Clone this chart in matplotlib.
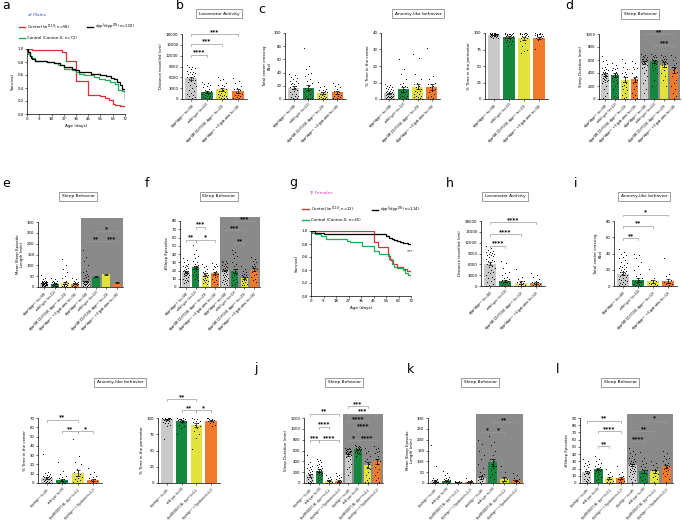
import numpy as np
import matplotlib
matplotlib.use("Agg")
import matplotlib.pyplot as plt
from matplotlib.lines import Line2D
from matplotlib.patches import Rectangle
import matplotlib.transforms as mtransforms

W, H = 682, 527
plt.rcParams['font.family'] = ['DejaVu Sans']

# ---------------- colours ----------------
C_GREY = '#c9c9c9'
C_GREEN = '#14883f'
C_YELLOW = '#e2e23c'
C_ORANGE = '#f07a2c'
C_SHADE = '#8a8a8a'
BAR_COLORS = [C_GREY, C_GREEN, C_YELLOW, C_ORANGE]
RED = '#dc2f3c'
GREEN_L = '#1fae55'

# ---------------- labels ----------------
DPP = r"dpp$^{f}$/dpp$^{DN}$"
GRD = r"dpp$^{f}$GR(DD)Y158, dpp$^{DN}$"
labels_m = [f"{DPP} (n=58)", "wild type (n=22)", f"{GRD} (n=23)", f"{DPP} + Vigabatrin (n=16)"]
labels_f = [f"{DPP} (n=40)", "wild type (n=30)", f"{GRD} (n=12)", f"{DPP} + Vigabatrin (n=12)"]

# ---------------- survival data ----------------
age_ticks = [0, 9, 18, 27, 36, 45, 54, 63, 72]
a_red_t = [0, 4, 26, 29, 36, 42, 45, 54, 57, 60, 63, 65, 68, 72]
a_red_s = [1.0, 0.98, 0.96, 0.82, 0.51, 0.51, 0.30, 0.28, 0.25, 0.21, 0.16, 0.14, 0.12, 0.11]
a_blk_t = [0, 1, 2, 3, 4, 6, 15, 20, 24, 27, 33, 35, 38, 43, 47, 54, 58, 62, 64, 66, 68, 70, 72]
a_blk_s = [1.0, 0.95, 0.90, 0.86, 0.84, 0.82, 0.80, 0.79, 0.76, 0.72, 0.70, 0.67, 0.65, 0.64, 0.62, 0.60,
           0.59, 0.56, 0.54, 0.50, 0.44, 0.38, 0.22]
a_grn_t = [0, 1, 2, 4, 6, 15, 20, 23, 27, 33, 36, 38, 42, 45, 49, 53, 57, 61, 65, 67, 70, 72]
a_grn_s = [1.0, 0.93, 0.90, 0.86, 0.82, 0.80, 0.79, 0.76, 0.70, 0.68, 0.65, 0.62, 0.60, 0.60, 0.57, 0.54,
           0.52, 0.49, 0.46, 0.37, 0.36, 0.25]

g_red_t = [0, 45, 48.5, 55.5, 57, 59, 62, 66, 69, 72]
g_red_s = [1.0, 0.83, 0.75, 0.62, 0.55, 0.50, 0.45, 0.42, 0.38, 0.33]
g_blk_t = [0, 3, 9, 54, 56, 58, 60, 62, 64, 66, 68, 70, 72]
g_blk_s = [1.0, 0.97, 0.96, 0.93, 0.90, 0.88, 0.86, 0.85, 0.83, 0.82, 0.81, 0.80, 0.78]
g_grn_t = [0, 1, 3, 7, 11, 26, 28, 37, 45, 49, 56, 58, 60, 62, 66, 68, 70, 72]
g_grn_s = [1.0, 0.97, 0.95, 0.93, 0.87, 0.85, 0.83, 0.77, 0.70, 0.64, 0.57, 0.50, 0.45, 0.43, 0.40, 0.36,
           0.33, 0.30]

# ---------------- bar data ----------------
b_mean = [5800, 2000, 2700, 2200]
b_err = [400, 300, 450, 500]
b_pts = [
    [9500, 9000, 8800, 8500, 8200, 7800, 7600, 7400, 7200, 7000, 6800, 6500, 6200, 6000, 5800, 5500, 5200,
     5000, 4800, 4500, 4000, 3500, 3000, 2600, 2200, 1800, 1500, 1200, 900, 600, 300, 100],
    [4800, 4500, 4200, 3800, 3500, 3200, 2800, 2500, 2300, 2100, 1900, 1800, 1700, 1500, 1300, 1100, 900,
     700, 500, 300, 200, 100],
    [6000, 5500, 5200, 4500, 4000, 3800, 3500, 3000, 2800, 2500, 2200, 2000, 1800, 1500, 1200, 1000, 800,
     700, 600, 400, 300, 200, 100],
    [5800, 5000, 4500, 3500, 3000, 2800, 2500, 2000, 1500, 1200, 1000, 800, 500, 300, 200, 100],
]
c1_mean = [17, 17, 9, 10]
c1_err = [2, 4, 2, 2.5]
c1_pts = [
    [38, 36, 34, 32, 30, 28, 27, 25, 24, 22, 22, 20, 20, 18, 16, 15, 14, 12, 10, 8, 7, 5, 4, 3, 2, 1, 0, 0],
    [78, 50, 45, 40, 38, 35, 30, 28, 25, 20, 16, 15, 12, 10, 8, 5, 3, 2, 1, 0, 0, 0],
    [26, 20, 18, 15, 14, 13, 12, 11, 10, 9, 8, 7, 6, 5, 4, 3, 3, 2, 2, 1, 0, 0, 0],
    [24, 22, 20, 18, 15, 12, 10, 8, 6, 5, 4, 3, 2, 1, 0, 0],
]
c2_mean = [3.5, 5.8, 7.5, 7.3]
c2_err = [0.4, 1.3, 1.6, 2.0]
c2_pts = [
    [9, 8.5, 8, 7.5, 7, 6.5, 6, 6, 5.5, 5, 5, 4.5, 4, 4, 3.5, 3, 3, 3, 2.5, 2, 2, 2, 1.5, 1, 1, 1, 0.5, 0.5, 0, 0],
    [24, 18, 15, 12, 10, 9, 8, 8, 7, 6, 5, 5, 4, 3, 3, 2, 2, 1, 1, 0.5, 0, 0],
    [27, 25, 15, 12, 10, 9, 8, 7, 6, 6, 5, 5, 4, 3, 3, 2, 2, 1, 1, 0.5, 0, 0, 0],
    [31, 14, 12, 10, 9, 9, 8, 7, 6, 5, 4, 3, 2, 1, 0.5, 0],
]
c3_mean = [97, 94, 92, 93]
c3_err = [0.5, 1.2, 2.0, 1.5]
c3_pts = [
    [100, 100, 100, 99, 99, 99, 99, 98, 98, 98, 97, 97, 97, 96, 96, 96, 95, 95, 94, 94, 93, 92, 100, 99, 98, 100],
    [100, 99, 99, 99, 98, 98, 97, 97, 96, 95, 95, 94, 93, 92, 91, 90, 88, 87, 86, 84, 80, 100],
    [100, 100, 99, 99, 98, 98, 97, 96, 95, 95, 93, 92, 90, 88, 85, 80, 75, 72, 70, 100],
    [100, 99, 99, 98, 98, 97, 96, 96, 95, 94, 93, 92, 90, 76, 100, 97],
]
d_mean = [380, 370, 300, 305, 560, 580, 530, 450]
d_err = [20, 25, 35, 40, 20, 25, 35, 45]
d_pts = [
    [660, 600, 580, 540, 500, 480, 460, 450, 440, 420, 410, 400, 390, 380, 370, 360, 350, 340, 330, 320, 310,
     300, 290, 280, 270, 260, 240, 200, 150, 100, 50, 20],
    [560, 520, 480, 470, 460, 440, 420, 400, 390, 380, 360, 350, 340, 320, 300, 280, 250, 200, 150, 100, 50, 30],
    [620, 560, 500, 460, 420, 400, 380, 350, 340, 300, 260, 250, 220, 200, 180, 150, 140, 100, 60, 30, 10],
    [580, 560, 500, 480, 460, 400, 350, 330, 300, 280, 250, 200, 150, 100, 60, 30, 10],
    [700, 680, 660, 650, 640, 620, 620, 610, 600, 590, 590, 580, 570, 560, 550, 540, 520, 500, 480, 450, 400,
     350, 300, 250, 150, 100],
    [700, 680, 660, 650, 640, 620, 600, 600, 580, 580, 560, 540, 520, 500, 480, 450, 400, 300, 200],
    [680, 660, 640, 620, 620, 600, 580, 580, 560, 540, 520, 500, 450, 400, 350, 300, 200],
    [680, 650, 600, 550, 520, 500, 480, 450, 420, 400, 350, 300, 250, 200, 150, 100, 50, 10],
]
e_mean = [18, 15, 18, 15, 25, 48, 58, 20]
e_err = [1.5, 2, 6, 2.5, 4, 3, 4, 2]
e_pts = [
    [55, 40, 35, 30, 28, 26, 25, 25, 24, 22, 22, 20, 20, 18, 17, 16, 15, 14, 13, 12, 11, 10, 9, 8, 7, 6, 5, 4],
    [40, 35, 30, 28, 25, 22, 20, 18, 16, 15, 14, 12, 10, 8, 6, 5, 4, 3, 2, 1],
    [130, 100, 85, 70, 50, 40, 30, 25, 20, 15, 12, 10, 8, 6, 4, 3, 2, 1],
    [40, 35, 30, 25, 22, 20, 18, 16, 14, 12, 10, 8, 6, 4, 2, 1],
    [170, 140, 120, 100, 75, 70, 60, 55, 50, 45, 40, 35, 30, 28, 26, 25, 24, 22, 20, 18, 16, 15, 14, 12, 10,
     8, 6, 5],
    [], [], [],
]
f_mean = [18, 24, 15, 17, 20, 19, 11, 21]
f_err = [1, 2, 1.5, 1.5, 1, 2.5, 1.5, 2]
f_pts = [
    [35, 33, 30, 28, 27, 26, 25, 24, 23, 22, 21, 20, 20, 19, 18, 18, 17, 17, 16, 16, 15, 15, 14, 13, 12, 11,
     10, 9, 8, 7, 6, 5],
    [51, 45, 40, 38, 35, 32, 30, 28, 27, 26, 25, 24, 23, 22, 20, 18, 16, 15, 14, 12, 10, 8],
    [28, 25, 24, 22, 20, 18, 17, 16, 15, 14, 13, 12, 11, 10, 9, 8, 7, 6, 5, 4],
    [29, 28, 26, 25, 24, 22, 20, 18, 16, 15, 14, 13, 12, 10, 8, 6, 4],
    [32, 31, 30, 29, 28, 27, 26, 25, 24, 23, 22, 21, 20, 19, 18, 17, 16, 15, 14, 13, 12, 11, 10, 9, 8, 7, 6,
     5, 4, 3],
    [45, 43, 40, 38, 35, 30, 28, 25, 22, 20, 18, 16, 14, 12, 10, 8, 6, 4, 2],
    [26, 22, 20, 18, 16, 15, 14, 13, 12, 11, 10, 9, 8, 7, 6, 5, 4, 3, 2],
    [36, 34, 32, 30, 28, 26, 25, 24, 22, 20, 18, 16, 14, 12, 10, 8, 6],
]
h_mean = [6200, 1500, 900, 900]
h_err = [450, 300, 400, 300]
h_pts = [
    [11000, 10500, 10000, 9800, 9500, 9300, 9200, 9000, 8800, 8700, 8500, 8200, 8000, 7500, 7200, 7000, 6800,
     6500, 6000, 5500, 5200, 5000, 4500, 4000, 3800, 3500, 3000, 2500, 2200, 2000, 1500, 1000, 500, 200, 100],
    [7000, 6500, 5000, 4000, 3500, 3000, 2500, 2200, 2000, 1800, 1600, 1500, 1400, 1200, 1000, 900, 800, 600,
     400, 200, 100, 50],
    [4800, 2500, 2000, 1500, 1200, 1000, 800, 600, 400, 200, 100, 50],
    [3500, 3000, 2500, 2000, 1500, 1200, 1000, 800, 600, 400, 200, 100, 50],
]
i_mean = [15, 7.5, 6, 6]
i_err = [1.8, 2.2, 2, 2.8]
i_pts = [
    [45, 42, 40, 38, 36, 34, 32, 30, 28, 26, 25, 24, 23, 22, 21, 20, 19, 18, 17, 16, 15, 14, 13, 12, 11, 10,
     9, 8, 7, 6, 5, 4, 3, 2, 1, 0, 0],
    [40, 38, 35, 30, 25, 20, 15, 12, 10, 8, 6, 5, 4, 3, 2, 1, 0, 0, 0, 0],
    [21, 10, 8, 6, 5, 4, 3, 2, 1, 0, 0, 0],
    [34, 15, 12, 8, 6, 5, 4, 3, 2, 1, 0, 0],
]
r3a_mean = [5, 3.5, 11, 3.5]
r3a_err = [1, 1.2, 3.5, 1.3]
r3a_pts = [
    [31, 12, 11, 10, 9, 8, 8, 7, 7, 6, 6, 5, 5, 4, 4, 3, 3, 2, 2, 1, 1, 0, 0, 0, 0],
    [23, 13, 10, 8, 6, 5, 4, 3, 2, 1, 0, 0, 0, 0, 0],
    [47, 29, 23, 20, 15, 12, 10, 8, 6, 5, 4, 3, 2, 1, 0],
    [16, 12, 10, 8, 6, 5, 4, 3, 2, 1, 0, 0],
]
r3b_mean = [98, 96, 89, 96]
r3b_err = [0.8, 1.5, 3.5, 1.2]
r3b_pts = [
    [100, 100, 100, 100, 99, 99, 99, 98, 98, 97, 97, 96, 95, 94, 93, 92, 90, 88, 68, 100, 99, 98],
    [100, 100, 99, 99, 98, 97, 96, 95, 94, 92, 90, 87, 84, 76, 100, 99],
    [100, 99, 98, 96, 95, 94, 92, 90, 88, 85, 80, 75, 70, 52],
    [100, 99, 98, 97, 96, 95, 94, 93, 90, 88, 100],
]
j_mean = [140, 230, 40, 40, 520, 620, 330, 400]
j_err = [25, 20, 12, 15, 20, 15, 60, 50]
j_pts = [
    [520, 380, 350, 320, 300, 280, 260, 240, 220, 200, 180, 160, 140, 120, 100, 80, 60, 40, 20, 10, 5, 0, 0, 0],
    [450, 420, 400, 380, 360, 340, 320, 300, 280, 260, 250, 240, 230, 220, 210, 200, 190, 180, 170, 160, 150,
     140, 120, 100, 80, 60],
    [150, 120, 100, 80, 60, 50, 40, 30, 20, 10, 5, 0],
    [180, 150, 130, 110, 90, 70, 50, 40, 30, 20, 10, 0],
    [650, 640, 630, 620, 620, 610, 600, 600, 590, 580, 580, 570, 560, 550, 540, 530, 520, 500, 480, 450, 400,
     350, 300, 250, 200, 150],
    [700, 690, 680, 670, 660, 650, 640, 630, 620, 610, 600, 590, 580, 570, 560, 550, 540, 530, 500],
    [650, 600, 550, 500, 450, 400, 350, 300, 250, 200, 150, 100, 50, 20, 10],
    [680, 650, 620, 600, 580, 550, 500, 450, 400, 350, 300, 250, 200, 150, 100, 50, 20],
]
k_mean = [8, 10, 5, 5, 25, 95, 18, 12]
k_err = [5, 3, 1, 2, 6, 15, 8, 4]
k_pts = [
    [175, 80, 25, 20, 15, 12, 10, 8, 6, 5, 4, 3, 2, 1, 0],
    [55, 45, 35, 30, 25, 20, 18, 15, 12, 10, 8, 6, 4, 2, 1],
    [10, 8, 6, 5, 4, 3, 2, 1],
    [25, 15, 10, 8, 6, 4, 3, 2, 1],
    [200, 180, 150, 130, 110, 90, 70, 50, 40, 35, 30, 25, 20, 15, 10, 5],
    [215, 190, 175, 150, 130, 110, 100, 90, 80, 70, 60, 50, 40, 30, 20],
    [80, 50, 30, 20, 15, 10, 8, 5],
    [45, 35, 25, 20, 15, 12, 10, 8, 5, 3, 2],
]
l_mean = [15, 19, 7, 7, 25, 16, 16, 23]
l_err = [1.5, 1.5, 1.5, 1.8, 1.2, 2.5, 2.5, 2.5]
l_pts = [
    [33, 30, 28, 26, 25, 24, 22, 20, 18, 17, 16, 15, 14, 13, 12, 10, 8, 6, 5, 4, 3, 2, 1, 0],
    [37, 33, 30, 28, 26, 24, 22, 20, 19, 18, 17, 16, 15, 14, 12, 10, 8, 6, 4],
    [20, 15, 12, 10, 8, 6, 5, 4, 3, 2, 1, 0],
    [24, 15, 12, 10, 8, 6, 5, 4, 3, 2, 1, 0],
    [48, 45, 42, 40, 38, 35, 33, 31, 30, 29, 28, 27, 26, 25, 24, 23, 22, 21, 20, 19, 18, 17, 16, 15, 14, 12,
     10, 8, 6, 4, 2],
    [43, 35, 30, 28, 26, 24, 22, 20, 18, 16, 14, 12, 10, 8, 6, 4, 2, 0],
    [30, 28, 25, 22, 20, 18, 16, 14, 12, 10, 8, 5, 2],
    [45, 42, 38, 35, 33, 30, 28, 26, 24, 22, 20, 18, 16, 14, 12, 10, 6, 2],
]

# ---------------- helpers ----------------
fig = plt.figure(figsize=(W / 100, H / 100), dpi=100)


def rect(l, t, r, b):
    return [l / W, 1 - b / H, (r - l) / W, (b - t) / H]


def style_axes(ax):
    for s in ['top', 'right']:
        ax.spines[s].set_visible(False)
    for s in ['left', 'bottom']:
        ax.spines[s].set_linewidth(0.5)
    ax.tick_params(length=1.5, width=0.4, pad=1, labelsize=2.8)


def fig_text(x, y, s, **kw):
    fig.text(x / W, 1 - y / H, s, **kw)


def title_box(cx, cy, s):
    fig_text(cx, cy, s, ha='center', va='center', fontsize=3.2,
             bbox=dict(boxstyle='square,pad=0.6', fc='white', ec='#777777', lw=0.5))


def letter(x, y, s):
    fig_text(x, y, s, ha='left', va='baseline', fontsize=9)


def bar_panel(box, means, errs, pts, ylim, yticks, ylabel, xlabels, shade=False, brackets=(), xfs=2.3):
    ax = fig.add_axes(rect(*box))
    style_axes(ax)
    n = len(means)
    x = np.arange(n)
    cols = [BAR_COLORS[k % 4] for k in range(n)]
    ax.set_xlim(-0.6, n - 0.4)
    ax.set_ylim(0, ylim)
    if shade:
        trans = mtransforms.blended_transform_factory(ax.transData, ax.transAxes)
        ax.add_patch(Rectangle((n / 2 - 0.5, 0), n / 2 + 0.1, 1.06, transform=trans,
                               color=C_SHADE, zorder=0, clip_on=False, lw=0))
    ax.bar(x, means, width=0.78, color=cols, zorder=2)
    for k in range(n):
        p = pts[k]
        if len(p):
            offs = (((np.arange(len(p)) * 0.618) % 1.0) - 0.5) * 0.6
            ax.scatter(k + offs, p, s=0.5, color='black', lw=0, zorder=3, clip_on=False)
    ax.errorbar(x, means, yerr=errs, fmt='none', ecolor='black', elinewidth=0.5, capsize=1.2,
                capthick=0.5, zorder=4)
    ax.set_yticks(yticks)
    ax.set_yticklabels([f"{v:g}" for v in yticks])
    ax.set_xticks(x)
    ax.set_xticklabels(xlabels, rotation=45, ha='right', rotation_mode='anchor', fontsize=xfs)
    ax.set_ylabel(ylabel, fontsize=2.8, labelpad=2)
    for (i, j, y, t) in brackets:
        h = 0.03 * ylim
        ax.plot([i, i, j, j], [y - h, y, y, y - h], color='#9a9a9a', lw=0.5, clip_on=False, zorder=5)
        ax.text((i + j) / 2, y + 0.005 * ylim, t, ha='center', va='bottom', fontsize=4.2,
                fontweight='bold', clip_on=False, zorder=6)
    return ax


def survival_panel(box, curves):
    ax = fig.add_axes(rect(*box))
    style_axes(ax)
    for t, s, c in curves:
        ax.step(t, s, where='post', color=c, lw=0.9)
    ax.set_xlim(0, 72)
    ax.set_ylim(0, 1.0)
    ax.set_xticks(age_ticks)
    ax.set_yticks([0, 0.2, 0.4, 0.6, 0.8, 1.0])
    ax.set_yticklabels(["0.0", "0.2", "0.4", "0.6", "0.8", "1.0"])
    ax.set_xlabel("Age (days)", fontsize=3, labelpad=1.5)
    ax.set_ylabel("Survival", fontsize=3, labelpad=2)
    return ax


def legend_line(x0, x1, y, c, txt):
    fig.add_artist(Line2D([x0 / W, x1 / W], [1 - y / H, 1 - y / H], color=c, lw=1.0))
    fig_text(x1 + 2, y, txt, ha='left', va='center', fontsize=2.8)


# ---------------- panel a ----------------
letter(2, 9, 'a')
fig_text(28, 15, '\u2642 Males', ha='left', va='center', fontsize=3.2, color='#3a5bd9')
legend_line(19, 25, 27, RED, r"Control (w$^{1118}$; n=58)")
legend_line(87, 93, 27, 'black', f"{DPP} (n=102)")
legend_line(19, 25, 38, GREEN_L, "Control (Canton-S; n=72)")
survival_panel((27, 49, 125, 114), [(a_red_t, a_red_s, RED), (a_grn_t, a_grn_s, GREEN_L),
                                    (a_blk_t, a_blk_s, 'black')])

# ---------------- panel b ----------------
letter(176, 9, 'b')
title_box(219, 13.5, 'Locomotor Activity')
bar_panel((182, 34, 247, 99), b_mean, b_err, b_pts, 18000, list(range(0, 18001, 3000)),
          'Distance travelled (cm)', labels_m,
          brackets=[(0, 1, 12300, '****'), (0, 2, 15300, '***'), (0, 3, 18000, '***')])

# ---------------- panel c ----------------
letter(258, 13, 'c')
title_box(418, 13.5, 'Anxiety-like behavior')
bar_panel((285, 33, 346, 99), c1_mean, c1_err, c1_pts, 100, [0, 20, 40, 60, 80, 100],
          'Total center crossing\n(No)', labels_m)
bar_panel((381, 33, 440, 99), c2_mean, c2_err, c2_pts, 40, [0, 10, 20, 30, 40],
          '% Time in the center', labels_m)
bar_panel((485, 33, 548, 99), c3_mean, c3_err, c3_pts, 100, [0, 25, 50, 75, 100],
          '% Time in the perimeter', labels_m)

# ---------------- panel d ----------------
letter(565, 9, 'd')
title_box(640, 14, 'Sleep Behavior')
bar_panel((599, 34, 680, 99), d_mean, d_err, d_pts, 1000, [0, 200, 400, 600, 800, 1000],
          'Sleep Duration (min)', labels_m + labels_m, shade=True,
          brackets=[(4, 7, 1000, '**'), (5, 7, 830, '***')])

# ---------------- panel e ----------------
letter(2, 187, 'e')
title_box(78, 196.5, 'Sleep Behavior')
bar_panel((38, 222, 123, 287), e_mean, e_err, e_pts, 300, [0, 50, 100, 150, 200, 250, 300],
          'Mean Sleep Episode\nLength (min)', labels_m + labels_m, shade=True,
          brackets=[(5, 7, 258, '*'), (4, 6, 212, '**'), (6, 7, 212, '***')])

# ---------------- panel f ----------------
letter(145, 187, 'f')
title_box(219, 196.5, 'Sleep Behavior')
bar_panel((180, 221, 260, 287), f_mean, f_err, f_pts, 80, list(range(0, 81, 10)),
          '#Sleep Episodes', labels_m + labels_m, shade=True,
          brackets=[(0, 1, 57, '**'), (1, 2, 73, '***'), (1, 3, 57, '*'), (4, 6, 69, '***'),
                    (5, 6, 53, '**'), (5, 7, 80, '***')])

# ---------------- panel g ----------------
letter(289, 186, 'g')
fig_text(310, 193, '\u2640 Females', ha='left', va='center', fontsize=3.2, color='#e040b8')
legend_line(302, 309, 209, RED, r"Control (w$^{1118}$; n=12)")
legend_line(372, 378, 210, 'black', f"{DPP} (n=114)")
legend_line(302, 309, 220, GREEN_L, "Control (Canton-S; n=45)")
axg = survival_panel((311, 231, 411, 296), [(g_red_t, g_red_s, RED), (g_grn_t, g_grn_s, GREEN_L),
                                            (g_blk_t, g_blk_s, 'black')])
axg.text(71, 0.72, '***', fontsize=3, ha='center', va='top')

# ---------------- panel h ----------------
letter(446, 187, 'h')
title_box(505, 196.5, 'Locomotor Activity')
bar_panel((481, 221, 545, 286), h_mean, h_err, h_pts, 18000, list(range(0, 18001, 3000)),
          'Distance travelled (cm)', labels_f,
          brackets=[(0, 1, 11100, '****'), (0, 2, 14400, '****'), (0, 3, 17700, '****')])

# ---------------- panel i ----------------
letter(574, 187, 'i')
title_box(644, 196.5, 'Anxiety-like behavior')
bar_panel((614, 221, 677, 286), i_mean, i_err, i_pts, 80, [0, 20, 40, 60, 80],
          'Total center crossing\n(No)', labels_f,
          brackets=[(0, 1, 59, '**'), (0, 2, 74, '**'), (0, 3, 88, '*')])

# ---------------- row 3 anxiety ----------------
title_box(120, 382.5, 'Anxiety-like behavior')
bar_panel((38, 418, 102, 483), r3a_mean, r3a_err, r3a_pts, 70, list(range(0, 71, 10)),
          '% Time in the center', labels_f, xfs=1.9,
          brackets=[(0, 2, 68, '**'), (1, 2, 56, '**'), (2, 3, 56, '*')])
bar_panel((158, 418, 220, 483), r3b_mean, r3b_err, r3b_pts, 100, [0, 25, 50, 75, 100],
          '% Time in the perimeter', labels_f, xfs=1.9,
          brackets=[(0, 2, 129, '**'), (1, 2, 112, '**'), (2, 3, 112, '*')])

# ---------------- panel j ----------------
letter(254, 372, 'j')
title_box(344, 382.5, 'Sleep Behavior')
bar_panel((304, 418, 383, 483), j_mean, j_err, j_pts, 1200, list(range(0, 1201, 200)),
          'Sleep Duration (min)', labels_f + labels_f, shade=True, xfs=1.9,
          brackets=[(0, 1, 792, '***'), (1, 2, 1035, '****'), (1, 3, 792, '****'), (0, 3, 1280, '**'),
                    (4, 5, 792, '*'), (5, 7, 792, '****'), (5, 6, 1005, '****'), (4, 6, 1139, '****'),
                    (4, 7, 1279, '***'), (4, 6, 1419, '***')])

# ---------------- panel k ----------------
letter(407, 373, 'k')
title_box(480, 382.5, 'Sleep Behavior')
bar_panel((428, 418, 523, 483), k_mean, k_err, k_pts, 300, [0, 50, 100, 150, 200, 250, 300],
          'Mean Sleep Episode\nLength (min)', labels_f + labels_f, shade=True, xfs=1.9,
          brackets=[(4, 5, 235, '*'), (5, 6, 235, '*'), (5, 7, 281, '**')])

# ---------------- panel l ----------------
letter(556, 373, 'l')
title_box(620, 382.5, 'Sleep Behavior')
bar_panel((580, 418, 673, 483), l_mean, l_err, l_pts, 90, list(range(0, 91, 10)),
          '#Sleep Episodes', labels_f + labels_f, shade=True, xfs=1.9,
          brackets=[(0, 3, 86, '**'), (1, 3, 72, '****'), (1, 2, 51, '**'), (5, 7, 86, '*'),
                    (4, 6, 72, '**'), (4, 5, 58, '****')])

fig.savefig('out.png', dpi=100)
